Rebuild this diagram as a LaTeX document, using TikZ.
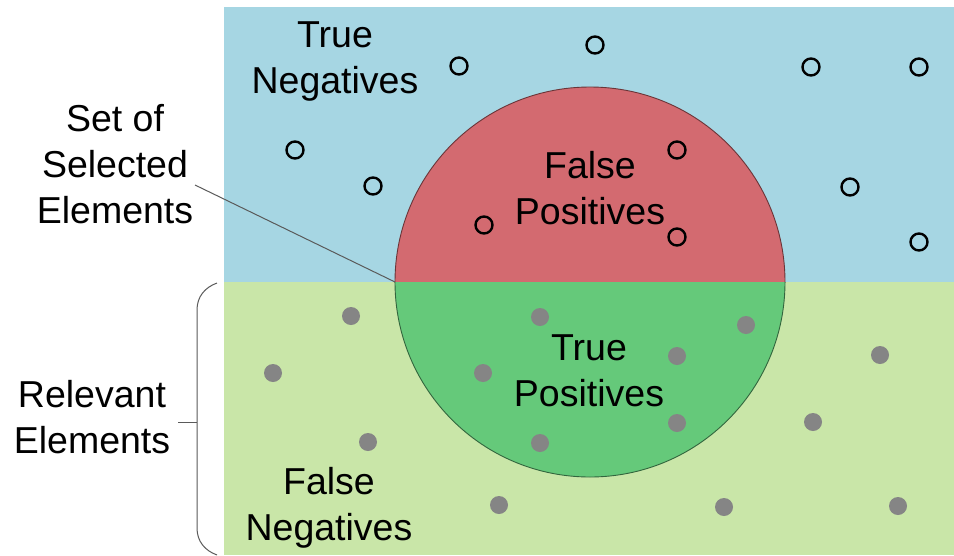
\documentclass[tikz,border=0pt]{standalone}
\usepackage{fontspec}
\setmainfont{Liberation Sans}
\begin{document}
\begin{tikzpicture}[x=1pt,y=-1pt,
  lbl/.style={align=center,inner sep=0pt,font=\fontsize{37.5}{46}\selectfont},
  opendot/.style={circle,draw=black,line width=2.4pt,inner sep=0pt,minimum size=17pt},
  fulldot/.style={circle,fill=dotgray,inner sep=0pt,minimum size=18pt},
  guide/.style={draw=linegray,line width=1pt}]
\definecolor{negblue}{HTML}{A6D6E3}
\definecolor{relgreen}{HTML}{C9E6A8}
\definecolor{fpred}{HTML}{D36A70}
\definecolor{tpgreen}{HTML}{65C97A}
\definecolor{dotgray}{HTML}{858585}
\definecolor{linegray}{HTML}{5A5A5A}
\useasboundingbox (0,0) rectangle (954,555);
\fill[white] (0,0) rectangle (954,555);
% regions
\fill[negblue] (224,7) rectangle (954,282);
\fill[relgreen] (224,282) rectangle (954,555);
\begin{scope}
  \clip (224,7) rectangle (954,282);
  \fill[fpred] (590,282) circle (195);
  \draw[draw=fpred!50!black,line width=0.9pt] (590,282) circle (195);
\end{scope}
\begin{scope}
  \clip (224,282) rectangle (954,555);
  \fill[tpgreen] (590,282) circle (195);
  \draw[draw=tpgreen!50!black,line width=0.9pt] (590,282) circle (195);
\end{scope}
\coordinate (cw) at (395,282);
% open dots
\foreach \p [count=\i] in {(459,66),(595,45),(811,67),(919,67),(295,150),(373,186),(677,150),(484,225),(677,237),(850,187),(919,242)}
  \node[opendot] (o\i) at \p {};
% filled dots
\foreach \p [count=\i] in {(540,317),(746,325),(677,356),(483,373),(677,423),(540,443),(499,505),(724,507),(351,316),(273,373),(368,442),(880,355),(813,422),(898,506)}
  \node[fulldot] (f\i) at \p {};
% labels
\node[lbl] (tn) at (335,61.5) {True\\Negatives};
\node[lbl] (fp) at (590,188.5) {False\\Positives};
\node[lbl] (tp) at (589,371) {True\\Positives};
\node[lbl] (fn) at (329,508) {False\\Negatives};
\node[lbl] (sel) at (115,164.5) {Set of\\Selected\\Elements};
\node[lbl] (rel) at (92,417.5) {Relevant\\Elements};
% connector
\coordinate (selend) at (195,185);
\draw[guide] (selend) -- (cw);
% brace
\coordinate (bt) at (217,283);
\coordinate (bb) at (217,555);
\coordinate (btip) at (178,422);
\draw[guide] (bt) to[out=200,in=90] (197,310) -- (197,528) to[out=-90,in=160] (bb);
\draw[guide] (btip) -- (197,422);
\end{tikzpicture}
\end{document}
